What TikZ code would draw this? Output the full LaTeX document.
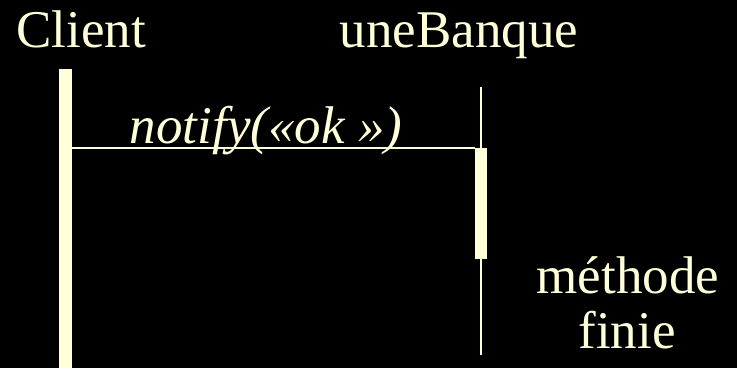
\documentclass[tikz,border=0pt]{standalone}
\usepackage{fontspec}
\setmainfont{Liberation Serif}
\usetikzlibrary{positioning,calc}
\definecolor{cream}{RGB}{255,255,217}

\begin{document}
\begin{tikzpicture}[x=1bp,y=-1bp,
  lbl/.style={text=cream,font=\fontsize{53bp}{60bp}\selectfont,inner sep=0pt,anchor=base},
  bar/.style={fill=cream,inner sep=0pt,minimum width=#1,anchor=north}]
\fill[black] (0,0) rectangle (737,368);
\useasboundingbox (0,0) rectangle (737,368);
% objects
\node[lbl] (client) at (81,47) {Client};
\node[lbl] (banque) at (459,47) {uneBanque};
% lifelines
\node[bar=13bp,minimum height=299bp] (clife) at (65,69) {};
\coordinate (btop) at (481,87);
\coordinate (bbot) at (481,355);
\draw[cream,line width=1.8bp] (btop) -- (bbot);
\node[bar=12bp,minimum height=111bp] (act) at (481,148) {};
% message
\draw[cream,line width=2bp] (clife.east |- act.north west) -- (act.north west);
\node[lbl] (msg) at (266,143) {\itshape notify(«ok »)};
\node[lbl] (meth) at (628,293) {méthode};
\node[lbl] (finie) at (627,348) {finie};
\end{tikzpicture}
\end{document}
